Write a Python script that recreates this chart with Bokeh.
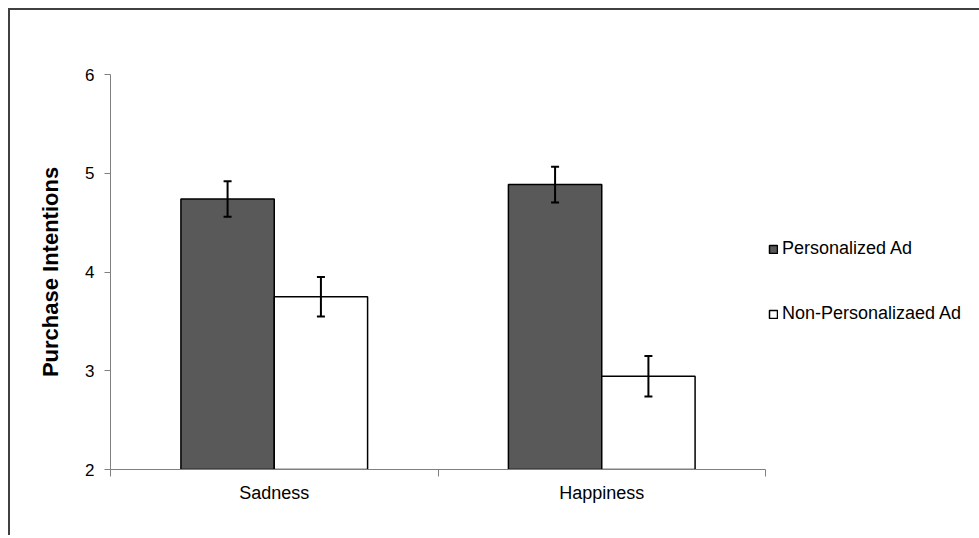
from bokeh.plotting import figure
from bokeh.models import (ColumnDataSource, Range1d, FixedTicker, Whisker, TeeHead,
                          Legend, LegendItem)
from bokeh.embed import file_html
from bokeh.resources import INLINE

# ---- data ----
categories = ["Sadness", "Happiness"]
series_names = ["Personalized Ad", "Non-Personalizaed Ad"]
personalized = [4.74, 4.885]
personalized_err = [0.18, 0.18]
nonpersonalized = [3.75, 2.945]
nonpersonalized_err = [0.20, 0.205]
y_ticks = [2, 3, 4, 5, 6]

FONT = "Liberation Sans"
bar_w = 0.285
centers = [i + 0.5 for i in range(len(categories))]

src_p = ColumnDataSource(dict(
    x=[c - bar_w / 2 for c in centers], top=personalized,
    upper=[v + e for v, e in zip(personalized, personalized_err)],
    lower=[v - e for v, e in zip(personalized, personalized_err)]))
src_n = ColumnDataSource(dict(
    x=[c + bar_w / 2 for c in centers], top=nonpersonalized,
    upper=[v + e for v, e in zip(nonpersonalized, nonpersonalized_err)],
    lower=[v - e for v, e in zip(nonpersonalized, nonpersonalized_err)]))

p = figure(frame_width=655, frame_height=395, output_backend="svg", toolbar_location=None,
           x_range=Range1d(0, len(categories)), y_range=Range1d(y_ticks[0], y_ticks[-1]),
           min_border_left=100, min_border_right=0, min_border_top=64, min_border_bottom=66)
p.styles = {"border-top": "2px solid #404040", "border-left": "2px solid #404040",
            "margin-left": "8px", "margin-top": "8px"}
p.outline_line_color = None
p.xgrid.visible = False
p.ygrid.visible = False
p.background_fill_color = "white"
p.border_fill_color = "white"

r1 = p.vbar(x="x", top="top", bottom=y_ticks[0], width=bar_w, source=src_p,
            fill_color="#595959", line_color="black", line_width=1.5)
r2 = p.vbar(x="x", top="top", bottom=y_ticks[0], width=bar_w, source=src_n,
            fill_color="white", line_color="black", line_width=1.5)

for src in (src_p, src_n):
    w = Whisker(source=src, base="x", upper="upper", lower="lower",
                line_color="black", line_width=2, level="overlay",
                upper_head=TeeHead(size=8, line_color="black", line_width=2),
                lower_head=TeeHead(size=8, line_color="black", line_width=2))
    p.add_layout(w)

# y axis
ya = p.yaxis[0]
ya.ticker = FixedTicker(ticks=y_ticks)
ya.axis_label = "Purchase Intentions"
ya.axis_label_text_font = FONT
ya.axis_label_text_font_style = "bold"
ya.axis_label_text_font_size = "22px"
ya.axis_label_text_color = "black"
ya.axis_label_standoff = 19
ya.major_label_text_font = FONT
ya.major_label_text_font_size = "17px"
ya.major_label_text_color = "black"
ya.major_label_standoff = 10
ya.major_tick_out = 6
ya.major_tick_in = 0
ya.minor_tick_line_color = None
ya.axis_line_color = "#808080"
ya.major_tick_line_color = "#808080"

# x axis: labels at category centres, tick marks at category boundaries
xa = p.xaxis[0]
xa.ticker = FixedTicker(ticks=centers, minor_ticks=list(range(len(categories) + 1)))
xa.major_label_overrides = {c: name for c, name in zip(centers, categories)}
xa.major_label_text_font = FONT
xa.major_label_text_font_size = "18px"
xa.major_label_text_color = "black"
xa.major_label_standoff = 6
xa.major_tick_line_color = None
xa.major_tick_out = 0
xa.major_tick_in = 0
xa.minor_tick_out = 7
xa.minor_tick_in = 0
xa.minor_tick_line_color = "#808080"
xa.axis_line_color = "#808080"

legend = Legend(items=[LegendItem(label=series_names[0], renderers=[r1]),
                       LegendItem(label=series_names[1], renderers=[r2])],
                location=(3, 145), orientation="vertical",
                glyph_width=10, glyph_height=10, label_standoff=4,
                label_height=20, spacing=44, padding=4, margin=0,
                label_text_font=FONT, label_text_font_size="18px",
                label_text_color="black",
                border_line_color=None, background_fill_alpha=0)
p.add_layout(legend, "right")

open("out.html", "w").write(file_html(p, INLINE))
